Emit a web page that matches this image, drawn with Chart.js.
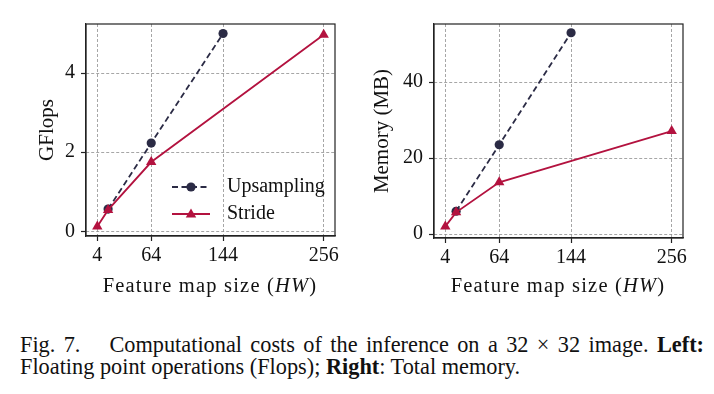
<!DOCTYPE html>
<html><head><meta charset="utf-8">
<script src="https://cdn.jsdelivr.net/npm/chart.js@4"></script>
<style>
html,body{margin:0;padding:0;background:#fff;}
body{width:714px;height:394px;position:relative;overflow:hidden;font-family:"Liberation Serif",serif;color:#111;}
.c{position:absolute;top:0;width:357px;height:300px;}
.xt{position:absolute;top:272px;font-size:20.5px;line-height:26px;letter-spacing:1.2px;white-space:nowrap;transform:translateX(-50%);}
.cap{position:absolute;left:20px;width:684px;font-size:22.3px;line-height:22px;white-space:nowrap;}
.l1{text-align:justify;text-align-last:justify;}
</style></head><body>
<div class="c" style="left:0"><canvas id="c1" width="357" height="300"></canvas></div>
<div class="c" style="left:357px"><canvas id="c2" width="357" height="300"></canvas></div>
<div class="xt" style="left:210px">Feature map size (<i>HW</i>)</div>
<div class="xt" style="left:558px">Feature map size (<i>HW</i>)</div>
<div class="cap l1" style="top:334px">Fig. 7.<span style="display:inline-block;width:29px"></span>Computational costs of the inference on a 32 × 32 image. <b>Left:</b></div>
<div class="cap" style="top:356px">Floating point operations (Flops); <b>Right</b>: Total memory.</div>
<script>
// ---- data ----
const xTicks = [4, 64, 144, 256];
const upX = [16, 64, 144];
const strideX = [4, 16, 64, 256];
const upFlops = [0.56, 2.23, 5.0];
const strideFlops = [0.12, 0.54, 1.75, 4.97];
const upMem = [6.0, 23.5, 53.0];
const strideMem = [2.0, 5.7, 13.6, 27.1];
const flopsTicks = [0, 2, 4];
const memTicks = [0, 20, 40];
const seriesNames = ['Upsampling', 'Stride'];

const NAVY = '#2b2b45';
const CRIMSON = '#b3123f';
const FONT = '"Liberation Serif", serif';

function pts(xs, ys){ return xs.map((x,i)=>({x:x, y:ys[i]})); }

const framePlugin = {
  id:'frame',
  afterDraw(chart){
    const {ctx, chartArea:a} = chart;
    ctx.save();
    ctx.strokeStyle = '#222';
    ctx.lineWidth = 1.2;
    ctx.setLineDash([]);
    ctx.strokeRect(a.left, a.top, a.right - a.left, a.bottom - a.top);
    ctx.restore();
  }
};

function drawMarker(ctx, style, x, y, r, color){
  ctx.fillStyle = color;
  ctx.beginPath();
  if (style === 'circle') {
    ctx.arc(x, y, r, 0, Math.PI*2);
  } else {
    const h = r*1.5;
    ctx.moveTo(x, y - h*0.62);
    ctx.lineTo(x + r*0.87, y + h*0.38);
    ctx.lineTo(x - r*0.87, y + h*0.38);
    ctx.closePath();
  }
  ctx.fill();
}

const legendPlugin = {
  id:'lg',
  afterDraw(chart){
    const ctx = chart.ctx;
    const rows = [187, 214];
    ctx.save();
    chart.data.datasets.forEach((ds) => {
      const idx = seriesNames.indexOf(ds.label);
      const y = rows[idx];
      ctx.strokeStyle = ds.borderColor;
      ctx.lineWidth = ds.borderWidth;
      ctx.setLineDash(ds.borderDash || []);
      ctx.beginPath(); ctx.moveTo(172, y); ctx.lineTo(210, y); ctx.stroke();
      ctx.setLineDash([]);
      drawMarker(ctx, ds.pointStyle, 191, y, ds.pointRadius, ds.borderColor);
      ctx.fillStyle = '#111';
      ctx.font = '20px ' + FONT;
      ctx.textBaseline = 'middle';
      ctx.textAlign = 'left';
      ctx.fillText(ds.label, 227, y);
    });
    ctx.restore();
  }
};

function makeChart(id, upY, strideY, yTicks, yMin, yMax, yTitle, pad, yWidth, xHeight, withLegend){
  const datasets = [
    {label: seriesNames[1], data: pts(strideX, strideY), borderColor: CRIMSON, backgroundColor: CRIMSON,
     borderWidth: 1.8, pointStyle: 'triangle', pointRadius: 6, pointBorderWidth: 0, order: 0},
    {label: seriesNames[0], data: pts(upX, upY), borderColor: NAVY, backgroundColor: NAVY,
     borderWidth: 1.8, borderDash: [6,3.5], pointStyle: 'circle', pointRadius: 4.6, pointBorderWidth: 0, order: 1}
  ];
  const gridCommon = {color:'#8f8f8f', lineWidth:0.8, tickColor:'#222', tickLength:5, tickWidth:1.2, tickBorderDash:[], drawTicks:true};
  return new Chart(document.getElementById(id), {
    type:'line',
    data:{datasets},
    options:{
      responsive:false, animation:false, devicePixelRatio:1,
      layout:{padding:pad},
      plugins:{legend:{display:false}, tooltip:{enabled:false}},
      scales:{
        x:{type:'linear', min:-8.6, max:268.6,
           afterBuildTicks(s){ s.ticks = xTicks.map(v=>({value:v})); },
           afterFit(s){ s.height = xHeight; },
           grid: gridCommon,
           border:{display:true, color:'#222', width:1.2, dash:[3,2]},
           ticks:{color:'#111', font:{family:FONT, size:20}, padding:3, maxRotation:0, autoSkip:false,
                  callback:(v)=>String(v)}},
        y:{type:'linear', min:yMin, max:yMax,
           afterBuildTicks(s){ s.ticks = yTicks.map(v=>({value:v})); },
           afterFit(s){ s.width = yWidth; },
           grid: gridCommon,
           border:{display:true, color:'#222', width:1.2, dash:[3,2]},
           ticks:{color:'#111', font:{family:FONT, size:20}, padding:6, callback:(v)=>String(v)},
           title:{display:true, text:yTitle, color:'#111', font:{family:FONT, size:21}, padding:{top:3, bottom:0}}}
      }
    },
    plugins: withLegend ? [framePlugin, legendPlugin] : [framePlugin]
  });
}

makeChart('c1', upFlops, strideFlops, flopsTicks, -0.12, 5.24, 'GFlops',
          {left:32, top:24, right:22, bottom:0}, 54, 64, true);
makeChart('c2', upMem, strideMem, memTicks, -1.05, 55.3, 'Memory (MB)',
          {left:10, top:24, right:31, bottom:0}, 67, 62, false);
</script>
</body></html>
